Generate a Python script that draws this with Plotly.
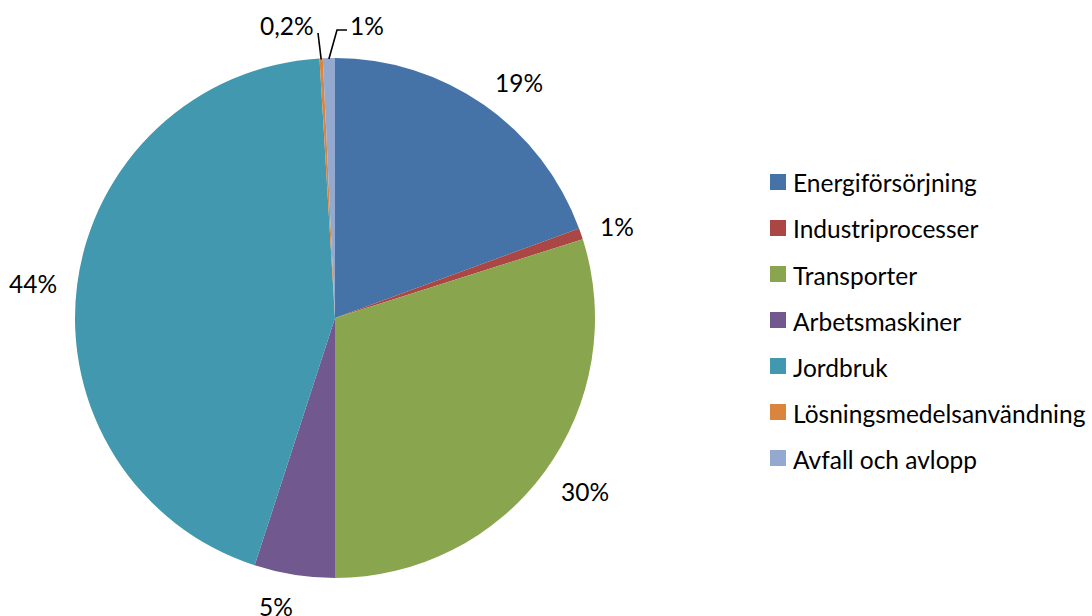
import math
import plotly.graph_objects as go

# Emission shares by sector (percent)
categories = [
    "Energiförsörjning",
    "Industriprocesser",
    "Transporter",
    "Arbetsmaskiner",
    "Jordbruk",
    "Lösningsmedelsanvändning",
    "Avfall och avlopp",
]
shares = [19.4, 0.7, 29.9, 5.0, 44.05, 0.2, 0.75]
colors = ["#4572A7", "#AA4643", "#89A54E", "#71588F", "#4198AF", "#DB843D", "#93A9CF"]

# Canvas and pie geometry (pixels)
W, H = 1092, 616
CX, CY, R = 335, 318, 260
FONT = "Lato"
FS = 24.5
TEXT_COLOR = "#000000"


def pct_label(v):
    if v < 0.5:
        return f"{v:.1f}".replace(".", ",") + "%"
    return f"{round(v)}%"


def px(x):
    return x / W


def py(y):
    return 1 - y / H


fig = go.Figure(
    go.Pie(
        labels=categories,
        values=shares,
        marker=dict(colors=colors, line=dict(width=0)),
        sort=False,
        direction="clockwise",
        rotation=0,
        textinfo="none",
        hoverinfo="label+percent",
        showlegend=False,
        domain=dict(x=[px(CX - R), px(CX + R)], y=[py(CY + R), py(CY - R)]),
    )
)

# Small slices at the top get their labels lifted out with leader lines
callouts = {
    5: dict(label=(287, 25), path=[(318, 33)]),
    6: dict(label=(367, 25), path=[(337, 30), (347, 30)]),
}

annotations = []
shapes = []
total = sum(shares)
cum = 0.0
LABEL_R = R + 22
for i, v in enumerate(shares):
    mid = (cum + v / 2) / total
    cum += v
    theta = 2 * math.pi * mid
    s, c = math.sin(theta), math.cos(theta)
    text = pct_label(v)
    if i in callouts:
        lx, ly = callouts[i]["label"]
        sx, sy = CX + (R - 1) * s, CY - (R - 1) * c
        pts = [(sx, sy)] + callouts[i]["path"]
        d = "M " + " L ".join(f"{px(x)},{py(y)}" for x, y in pts)
        shapes.append(dict(type="path", xref="paper", yref="paper", path=d,
                           line=dict(color="#000000", width=1.6)))
    else:
        # box sits outside the rim: pushed sideways by half its width,
        # vertically by a share of its height
        w, h = 15 * len(text), 16
        lx = CX + LABEL_R * s + math.copysign(w / 2, s)
        ly = CY - LABEL_R * c - c * h / 2 + 2
    annotations.append(dict(
        x=px(lx), y=py(ly), xref="paper", yref="paper", text=text,
        showarrow=False, xanchor="center", yanchor="middle",
        font=dict(family=FONT, size=FS, color=TEXT_COLOR),
    ))

# Legend drawn as swatches and text to the right of the pie
LEG_X, LEG_Y0, LEG_STEP, SW = 770, 182, 46, 16
for i, (cat, col) in enumerate(zip(categories, colors)):
    yc = LEG_Y0 + LEG_STEP * i
    shapes.append(dict(type="rect", xref="paper", yref="paper",
                       x0=px(LEG_X), x1=px(LEG_X + SW),
                       y0=py(yc + SW / 2), y1=py(yc - SW / 2),
                       fillcolor=col, line=dict(width=0)))
    annotations.append(dict(
        x=px(LEG_X + SW + 5), y=py(yc + 1), xref="paper", yref="paper", text=cat,
        showarrow=False, xanchor="left", yanchor="middle",
        font=dict(family=FONT, size=FS, color=TEXT_COLOR),
    ))

fig.update_layout(
    width=W,
    height=H,
    margin=dict(l=0, r=0, t=0, b=0),
    paper_bgcolor="#FFFFFF",
    plot_bgcolor="#FFFFFF",
    annotations=annotations,
    shapes=shapes,
    showlegend=False,
)

fig.write_html("out.html")
